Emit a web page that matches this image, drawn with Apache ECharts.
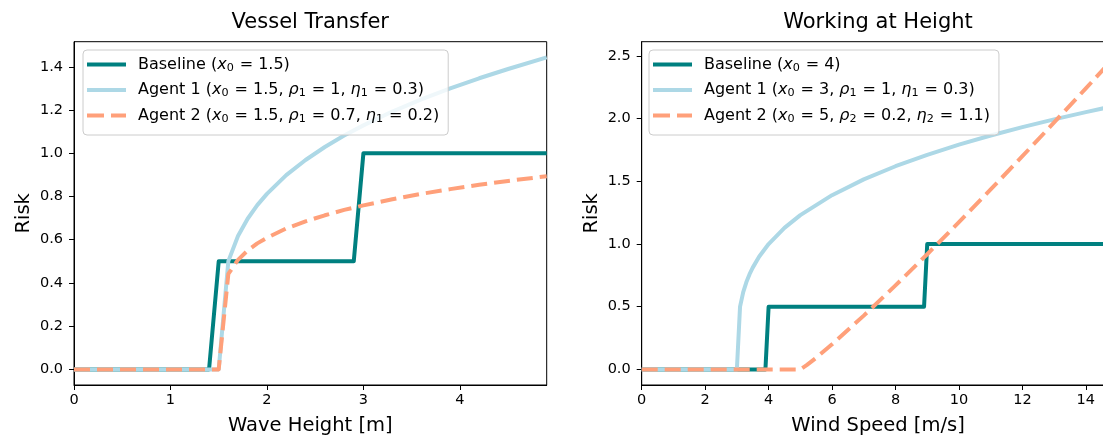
<!DOCTYPE html>
<html>
<head>
<meta charset="utf-8">
<script src="https://cdn.jsdelivr.net/npm/echarts@6/dist/echarts.min.js"></script>
<style>
  html, body { margin: 0; padding: 0; background: #fff; }
  #main { width: 1103px; height: 437px; }
</style>
</head>
<body>
<div id="main"></div>
<script>
// --- data ---
var vesselBaseX = [0, 1.4, 1.5, 2.9, 3.0, 4.9];
var vesselBaseline = [0, 0, 0.5, 0.5, 1, 1];
var vesselAgentX = [0, 1.5, 1.6, 1.7, 1.8, 1.9, 2.0, 2.2, 2.4, 2.6, 2.8, 3.0, 3.3, 3.6, 3.9, 4.2, 4.5, 4.9];
var vesselAgent1 = [0, 0, 0.501, 0.617, 0.697, 0.760, 0.812, 0.899, 0.969, 1.029, 1.082, 1.129, 1.193, 1.249, 1.300, 1.347, 1.390, 1.444];
var vesselAgent2 = [0, 0, 0.442, 0.507, 0.550, 0.583, 0.609, 0.652, 0.685, 0.713, 0.738, 0.759, 0.787, 0.812, 0.834, 0.854, 0.872, 0.894];

var windBaseX = [0, 3.9, 4.0, 8.9, 9.0, 14.9];
var windBaseline = [0, 0, 0.5, 0.5, 1, 1];
var windAgent1X = [0, 3.0, 3.1, 3.2, 3.3, 3.4, 3.5, 3.7, 4.0, 4.5, 5, 6, 7, 8, 9, 10, 11, 12, 13, 14, 14.9];
var windAgent1 = [0, 0, 0.501, 0.617, 0.697, 0.760, 0.812, 0.899, 1.0, 1.129, 1.231, 1.390, 1.516, 1.621, 1.712, 1.793, 1.866, 1.933, 1.995, 2.053, 2.102];
var windAgent2X = [0, 5, 5.2, 5.5, 6, 7, 8, 9, 10, 11, 12, 13, 14, 14.9];
var windAgent2 = [0, 0, 0.034, 0.093, 0.2, 0.429, 0.670, 0.919, 1.175, 1.436, 1.701, 1.970, 2.242, 2.490];

var vesselXTicks = [0, 1, 2, 3, 4];
var vesselYTicks = [0, 0.2, 0.4, 0.6, 0.8, 1.0, 1.2, 1.4];
var windXTicks = [0, 2, 4, 6, 8, 10, 12, 14];
var windYTicks = [0, 0.5, 1.0, 1.5, 2.0, 2.5];

var vesselNames = ['Baseline (x₀ = 1.5)', 'Agent 1 (x₀ = 1.5, ρ₁ = 1, η₁ = 0.3)', 'Agent 2 (x₀ = 1.5, ρ₁ = 0.7, η₁ = 0.2)'];
var windNames = ['Baseline (x₀ = 4)', 'Agent 1 (x₀ = 3, ρ₁ = 1, η₁ = 0.3)', 'Agent 2 (x₀ = 5, ρ₂ = 0.2, η₂ = 1.1)'];

var TEAL = '#008080', LIGHTBLUE = '#ADD8E6', SALMON = '#FFA07A';
var FONT = 'DejaVu Sans';
var SOLID_ICON = 'path://M0,0H39V4H0Z';
var DASH_ICON = 'path://M0,0H17V4H0Z M24,0H39V4H24Z';

function pairs(xs, ys) {
    return xs.map(function (x, i) { return [x, ys[i]]; });
}

// italic symbol + subscript digit, like matplotlib mathtext
var subDigits = { '₀': '0', '₁': '1', '₂': '2' };
function mathLabel(name) {
    return name
        .replace(/ = /g, '{e|=}')
        .replace(/([xρη])([₀₁₂])/g, function (m, sym, sub) {
            return '{i|' + sym + '}{s|' + subDigits[sub] + '}';
        });
}

function legendFor(names, left) {
    return {
        data: [
            { name: names[0], icon: SOLID_ICON },
            { name: names[1], icon: SOLID_ICON },
            { name: names[2], icon: DASH_ICON }
        ],
        orient: 'vertical',
        left: left,
        top: 50,
        padding: [5, 9, 10, 4],
        itemWidth: 39,
        itemHeight: 4,
        itemGap: 6.5,
        borderColor: '#cccccc',
        borderWidth: 1,
        borderRadius: 4,
        backgroundColor: 'rgba(255,255,255,0.8)',
        selectedMode: false,
        formatter: mathLabel,
        textStyle: {
            fontFamily: FONT, fontSize: 16, color: '#000', lineHeight: 19,
            padding: [0, 0, 0, 7],
            rich: {
                i: { fontFamily: FONT, fontSize: 16, fontStyle: 'italic', color: '#000', lineHeight: 19 },
                s: { fontFamily: FONT, fontSize: 11.2, color: '#000', lineHeight: 12, padding: [7, 1, 0, 0] },
                e: { fontFamily: FONT, fontSize: 16, color: '#000', lineHeight: 19, padding: [0, 5, 0, 5] }
            }
        }
    };
}

function xAxisFor(idx, max, ticks, name) {
    return {
        type: 'value', gridIndex: idx, min: 0, max: max,
        name: name, nameLocation: 'middle', nameGap: 31,
        nameTextStyle: { fontFamily: FONT, fontSize: 19.5, color: '#000' },
        axisLine: { show: true, onZero: false, lineStyle: { color: '#000', width: 1 } },
        axisTick: { show: true, length: 5, customValues: ticks, lineStyle: { color: '#000' } },
        axisLabel: { customValues: ticks, margin: 8, fontFamily: FONT, fontSize: 14.5, color: '#000' },
        splitLine: { show: false }
    };
}

function yAxisFor(idx, min, max, ticks, decimals) {
    return {
        type: 'value', gridIndex: idx, min: min, max: max,
        name: 'Risk', nameLocation: 'middle', nameGap: 40,
        nameTextStyle: { fontFamily: FONT, fontSize: 19.5, color: '#000' },
        axisLine: { show: true, onZero: false, lineStyle: { color: '#000', width: 1 } },
        axisTick: { show: true, length: 5, customValues: ticks, lineStyle: { color: '#000' } },
        axisLabel: {
            customValues: ticks, margin: 11, fontFamily: FONT, fontSize: 14.5, color: '#000',
            formatter: function (v) { return v.toFixed(decimals); }
        },
        splitLine: { show: false }
    };
}

function lineSeries(name, idx, data, color, dashed) {
    return {
        name: name, type: 'line', xAxisIndex: idx, yAxisIndex: idx,
        data: data, symbol: 'none', showSymbol: false, animation: false,
        lineStyle: { color: color, width: 4, type: dashed ? [16, 7] : 'solid', join: 'round' },
        itemStyle: { color: color }
    };
}

var myChart = echarts.init(document.getElementById('main'));

var option = {
    animation: false,
    backgroundColor: '#fff',
    title: [
        { text: 'Vessel Transfer', left: 310.3, top: 12, textAlign: 'center', padding: 0,
          textStyle: { fontFamily: FONT, fontSize: 21, fontWeight: 'normal', color: '#000' } },
        { text: 'Working at Height', left: 878, top: 12, textAlign: 'center', padding: 0,
          textStyle: { fontFamily: FONT, fontSize: 21, fontWeight: 'normal', color: '#000' } }
    ],
    legend: [legendFor(vesselNames, 83), legendFor(windNames, 649)],
    grid: [
        { left: 74, top: 41.7, width: 472.7, height: 343.3, show: true, borderColor: '#000', borderWidth: 1,
          containLabel: false, outerBoundsMode: 'none' },
        { left: 641.7, top: 41.7, width: 472.7, height: 343.3, show: true, borderColor: '#000', borderWidth: 1,
          containLabel: false, outerBoundsMode: 'none' }
    ],
    xAxis: [
        xAxisFor(0, 4.9, vesselXTicks, 'Wave Height [m]'),
        xAxisFor(1, 14.9, windXTicks, 'Wind Speed [m/s]')
    ],
    yAxis: [
        yAxisFor(0, -0.0722, 1.5162, vesselYTicks, 1),
        yAxisFor(1, -0.1245, 2.6145, windYTicks, 1)
    ],
    series: [
        lineSeries(vesselNames[0], 0, pairs(vesselBaseX, vesselBaseline), TEAL, false),
        lineSeries(vesselNames[1], 0, pairs(vesselAgentX, vesselAgent1), LIGHTBLUE, false),
        lineSeries(vesselNames[2], 0, pairs(vesselAgentX, vesselAgent2), SALMON, true),
        lineSeries(windNames[0], 1, pairs(windBaseX, windBaseline), TEAL, false),
        lineSeries(windNames[1], 1, pairs(windAgent1X, windAgent1), LIGHTBLUE, false),
        lineSeries(windNames[2], 1, pairs(windAgent2X, windAgent2), SALMON, true)
    ]
};

myChart.setOption(option);
</script>
</body>
</html>
